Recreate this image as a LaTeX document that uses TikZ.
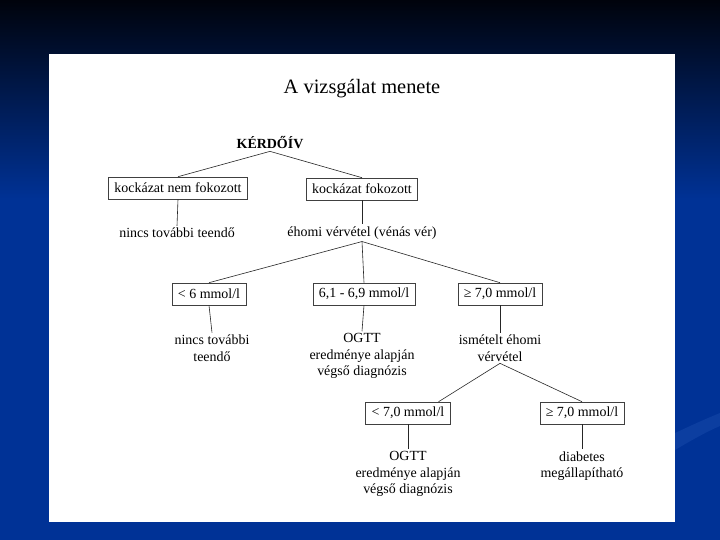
\documentclass[tikz,border=0pt]{standalone}
\usepackage{fontspec}
\setmainfont{Liberation Serif}
\definecolor{bgBlue}{RGB}{0,50,150}
\definecolor{bgDark}{RGB}{0,3,12}
\definecolor{swooshBlue}{RGB}{12,62,160}

\begin{document}
\begin{tikzpicture}
[x=1bp,y=-1bp,
  lineDecorate/.style={-,line width=0.6bp,draw=black!85},%
  boxDecorate/.style={shape=rectangle,draw=black!75,line width=0.6bp,fill=white,
    inner xsep=6bp,inner ysep=2bp,minimum height=22bp,font=\fontsize{14}{16.5}\selectfont},
  textDecorate/.style={align=center,inner sep=2bp,font=\fontsize{14}{16.5}\selectfont}]
%% background and panel
\useasboundingbox (0,0) rectangle (720,540);
\fill[bgBlue] (0,0) rectangle (720,540);
\shade[top color=bgDark,bottom color=bgBlue] (0,0) rectangle (720,200);
\fill[swooshBlue] (675,450) .. controls (692,440) and (706,432) .. (720,426)
  -- (720,413) .. controls (705,419) and (690,426) .. (675,433) -- cycle;
\fill[white] (49,54) rectangle (675,522);
\node[font=\fontsize{20.5}{24}\selectfont] (title) at (362,89) {A vizsgálat menete};
\node[textDecorate,font=\fontsize{14}{16.5}\selectfont\bfseries] (kerdoiv) at (270,143) {KÉRDŐÍV};
%% boxes
\foreach \nodename/\x/\y/\label in {
  b1/178/188/{kockázat nem fokozott},
  b2/362/189/{kockázat fokozott},
  b3/209/294/{< 6 mmol/l},
  b4/364/294/{6,1 - 6,9 mmol/l},
  b5/500/294/{≥ 7,0 mmol/l},
  b6/408/413/{< 7,0 mmol/l},
  b7/582/413/{≥ 7,0 mmol/l}}
{
  \node (\nodename) at (\x,\y) [boxDecorate] {\label};
}
%% texts under the boxes
\foreach \nodename/\x/\y/\label in {
  t1/177/233/{nincs további teendő},
  t2/362/233/{éhomi vérvétel (vénás vér)},
  t3/212/348/{nincs további\\teendő},
  t4/362/356/{OGTT\\eredménye alapján\\végső diagnózis},
  t5/500/348/{ismételt éhomi\\vérvétel},
  t6/408/474/{OGTT\\eredménye alapján\\végső diagnózis},
  t7/582/466/{diabetes\\megállapítható}}
{
  \node (\nodename) at (\x,\y) [textDecorate] {\label};
}
\coordinate (b6in) at ([xshift=-12bp]b6.north east);
%% connectors
\path
\foreach \startnode/\endnode in {
  kerdoiv.south/b1.north, kerdoiv.south/b2.north, b1.south/t1.north, b2.south/t2.north,
  t2.south/b3.north, t2.south/b4.north, t2.south/b5.north,
  b3.south/t3.north, b4.south/t4.north, b5.south/t5.north,
  t5.south/b6in, t5.south/b7.north, b6.south/t6.north, b7.south/t7.north}
{
  (\startnode) edge[lineDecorate] (\endnode)
};
\end{tikzpicture}
\end{document}
